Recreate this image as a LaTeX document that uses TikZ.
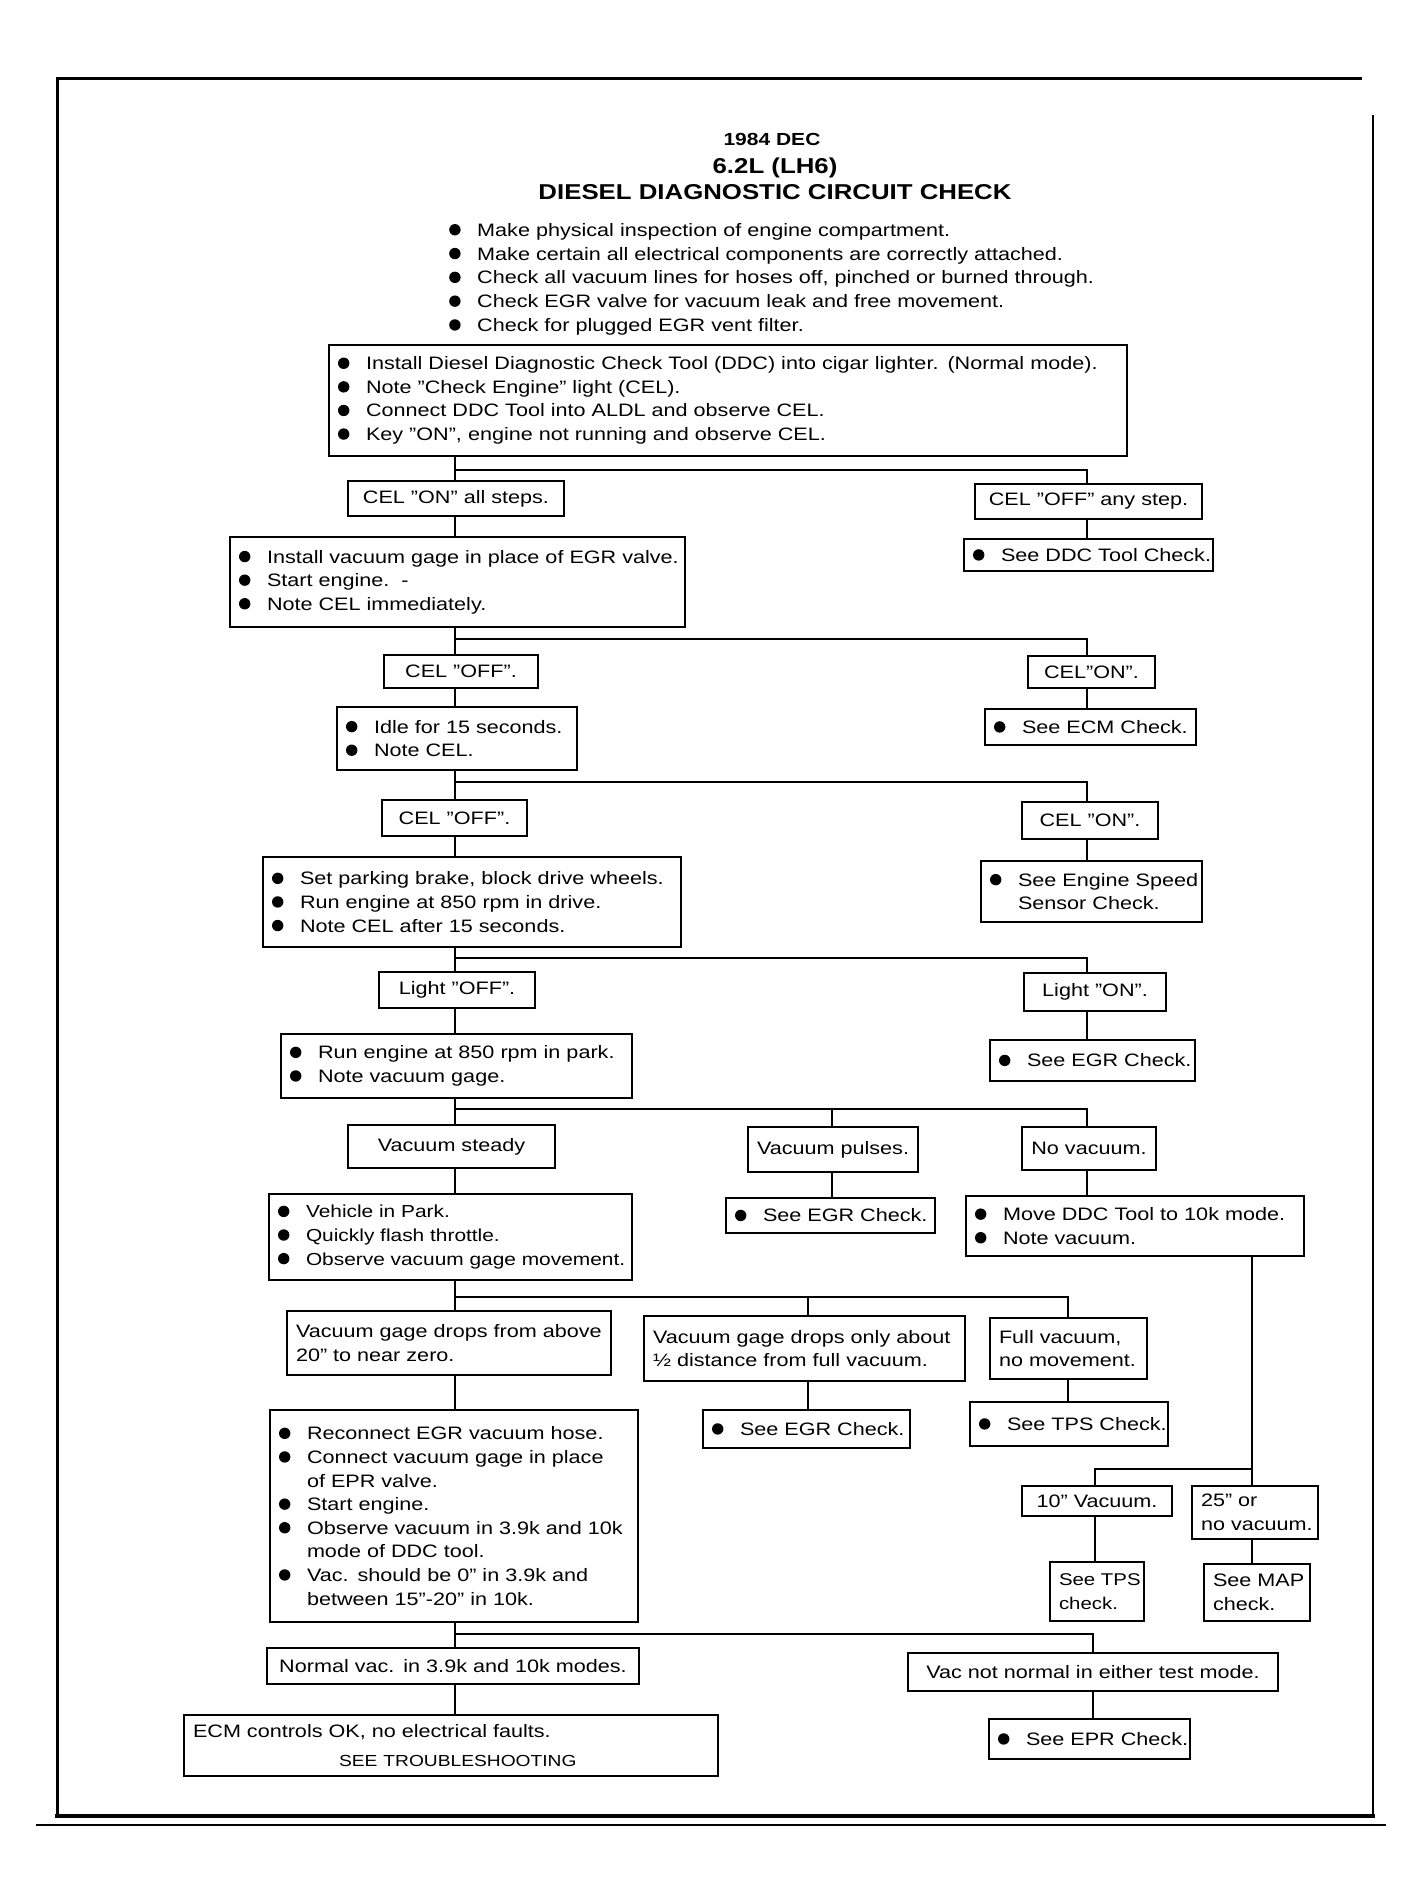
\documentclass[tikz,border=0pt]{standalone}
\usepackage{fontspec}
\setmainfont{Liberation Sans}[FakeStretch=1.2]
\newcommand\bul{\makebox[28pt][l]{\tikz[baseline=0pt]\fill (5.5pt,6.5pt) circle (5.7pt);}}
\newcommand\bi[1]{\mbox{\bul#1}}
\newcommand\ci[1]{\mbox{\hspace*{28pt}#1}}
\newcommand\mybox[7][]{%
  \pgfmathsetmacro\bw{#5-#3}%
  \pgfmathsetmacro\bh{#6-#4}%
  \pgfmathsetmacro\bt{#5-#3-18}%
  \node[bbox,minimum width=\bw pt,minimum height=\bh pt,text width=\bt pt,#1] (#2) at ({(#3+#5)/2},{(#4+#6)/2}) {#7};}
\begin{document}
\begin{tikzpicture}[x=1pt,y=-1pt,
  bbox/.style={draw,line width=2.4pt,inner xsep=9pt,inner ysep=1pt,align=left,
    font=\fontsize{18}{23.6}\selectfont},
  lbox/.style={align=center},
  conn/.style={line width=2pt},
  intro/.style={inner sep=0pt,align=left,font=\fontsize{18}{23.8}\selectfont},
  ttl/.style={inner sep=0pt,anchor=base}]
\fill[white] (0,0) rectangle (1423,1900);
\useasboundingbox (0,0) rectangle (1423,1900);
% frame
\draw[line width=3pt] (57,1816) -- (57,79) -- (1362,79);
\draw[line width=1.6pt] (1373,115) -- (1373,1816);
\draw[line width=3.2pt] (55,1816) -- (1375,1816);
\draw[line width=1.4pt] (36,1825) -- (1386,1825);
% title
\node[ttl,font=\bfseries\fontsize{17.5}{17.5}\selectfont] (t1) at (772,146) {1984 DEC};
\node[ttl,font=\bfseries\fontsize{21.5}{21.5}\selectfont] (t2) at (775,173) {6.2L (LH6)};
\node[ttl,font=\bfseries\fontsize{21.5}{21.5}\selectfont] (t3) at (775,199) {DIESEL DIAGNOSTIC CIRCUIT CHECK};
\node[intro,anchor=north west] (intro) at (449,223) {%
\bi{Make physical inspection of engine compartment.}\\
\bi{Make certain all electrical components are correctly attached.}\\
\bi{Check all vacuum lines for hoses off, pinched or burned through.}\\
\bi{Check EGR valve for vacuum leak and free movement.}\\
\bi{Check for plugged EGR vent filter.}};
% boxes
\mybox{b1}{329}{345}{1127}{456}{\bi{Install Diesel Diagnostic Check Tool (DDC) into cigar lighter. (Normal mode).}\\
\bi{Note "Check Engine" light (CEL).}\\
\bi{Connect DDC Tool into ALDL and observe CEL.}\\
\bi{Key "ON", engine not running and observe CEL.}}
\mybox[lbox]{celon}{348}{481}{564}{516}{\mbox{CEL "ON" all steps.}}
\mybox[lbox]{celoff}{975}{484}{1202}{519}{\mbox{CEL "OFF" any step.}}
\mybox{ddc}{964}{539}{1213}{571}{\bi{See DDC Tool Check.}}
\mybox{b2}{230}{537}{685}{627}{\bi{Install vacuum gage in place of EGR valve.}\\
\bi{Start engine.\ \ -}\\
\bi{Note CEL immediately.}}
\mybox[lbox]{off1}{384}{655}{538}{688}{\mbox{CEL "OFF".}}
\mybox[lbox]{on1}{1028}{656}{1155}{688}{\mbox{CEL"ON".}}
\mybox{idle}{337}{707}{577}{770}{\bi{Idle for 15 seconds.}\\
\bi{Note CEL.}}
\mybox{ecm}{985}{709}{1196}{745}{\bi{See ECM Check.}}
\mybox[lbox]{off2}{382}{800}{527}{836}{\mbox{CEL "OFF".}}
\mybox[lbox]{on2}{1022}{802}{1158}{839}{\mbox{CEL "ON".}}
\mybox{b4}{263}{857}{681}{947}{\bi{Set parking brake, block drive wheels.}\\
\bi{Run engine at 850 rpm in drive.}\\
\bi{Note CEL after 15 seconds.}}
\mybox{ess}{981}{861}{1202}{922}{\bi{See Engine Speed}\\
\ci{Sensor Check.}}
\mybox[lbox]{loff}{379}{972}{535}{1008}{\mbox{Light "OFF".}}
\mybox[lbox]{lon}{1024}{973}{1166}{1011}{\mbox{Light "ON".}}
\mybox{b5}{281}{1034}{632}{1098}{\bi{Run engine at 850 rpm in park.}\\
\bi{Note vacuum gage.}}
\mybox{egr1}{990}{1040}{1195}{1081}{\bi{See EGR Check.}}
\mybox[lbox]{vs}{348}{1125}{555}{1168}{\mbox{Vacuum steady}}
\mybox[lbox]{vp}{748}{1127}{918}{1172}{\mbox{Vacuum pulses.}}
\mybox[lbox]{nv}{1022}{1127}{1156}{1170}{\mbox{No vacuum.}}
\mybox[font=\fontsize{17.4}{23.6}\selectfont,inner xsep=8pt]{b6}{269}{1194}{632}{1280}{\bi{Vehicle in Park.}\\
\bi{Quickly flash throttle.}\\
\bi{Observe vacuum gage movement.}}
\mybox{egr2}{726}{1198}{935}{1233}{\bi{See EGR Check.}}
\mybox{b7}{966}{1196}{1304}{1256}{\bi{Move DDC Tool to 10k mode.}\\
\bi{Note vacuum.}}
\mybox{drops}{287}{1311}{611}{1375}{\mbox{Vacuum gage drops from above}\\
\mbox{20" to near zero.}}
\mybox{half}{644}{1316}{965}{1381}{\mbox{Vacuum gage drops only about}\\
\mbox{½ distance from full vacuum.}}
\mybox{full}{990}{1318}{1147}{1379}{\mbox{Full vacuum,}\\
\mbox{no movement.}}
\mybox{b8}{270}{1410}{638}{1622}{\bi{Reconnect EGR vacuum hose.}\\
\bi{Connect vacuum gage in place}\\
\ci{of EPR valve.}\\
\bi{Start engine.}\\
\bi{Observe vacuum in 3.9k and 10k}\\
\ci{mode of DDC tool.}\\
\bi{Vac. should be 0" in 3.9k and}\\
\ci{between 15"-20" in 10k.}}
\mybox{egr3}{703}{1410}{910}{1448}{\bi{See EGR Check.}}
\mybox{tps}{970}{1402}{1168}{1446}{\bi{See TPS Check.}}
\mybox[lbox]{v10}{1022}{1486}{1172}{1516}{\mbox{10" Vacuum.}}
\mybox{v25}{1192}{1486}{1318}{1539}{\mbox{25" or}\\
\mbox{no vacuum.}}
\mybox[font=\fontsize{17}{23.6}\selectfont]{tpsc}{1050}{1562}{1144}{1621}{\mbox{See TPS}\\
\mbox{check.}}
\mybox{mapc}{1204}{1564}{1310}{1621}{\mbox{See MAP}\\
\mbox{check.}}
\mybox[lbox]{nvac}{267}{1648}{639}{1684}{\mbox{Normal vac. in 3.9k and 10k modes.}}
\mybox{ecmok}{184}{1715}{718}{1776}{\mbox{ECM controls OK, no electrical faults.}\\[5pt]
\mbox{\hspace*{146pt}\fontsize{16}{16}\selectfont SEE TROUBLESHOOTING}}
\mybox[lbox]{vnn}{908}{1653}{1278}{1691}{\mbox{Vac not normal in either test mode.}}
\mybox{epr}{989}{1719}{1190}{1759}{\bi{See EPR Check.}}
% connector columns
\coordinate (tx) at (455,0);
\coordinate (rx) at (1087,0);
\coordinate (cv) at (832,0);
\coordinate (ch) at (808,0);
\coordinate (cf) at (1068,0);
\coordinate (c10) at (1095,0);
\coordinate (c25) at (1252,0);
\coordinate (cn) at (1093,0);
\coordinate (s1) at (455,470);
\coordinate (s2) at (455,639);
\coordinate (s3) at (455,782);
\coordinate (s4) at (455,958);
\coordinate (s5) at (455,1109);
\coordinate (s6) at (455,1297);
\coordinate (s7) at (1252,1469);
\coordinate (s8) at (455,1634);
% connectors
\draw[conn] (b1.south -| tx) -- (celon.north -| tx);
\draw[conn] (s1) -| (celoff.north -| rx);
\draw[conn] (celon.south -| tx) -- (b2.north -| tx);
\draw[conn] (celoff.south -| rx) -- (ddc.north -| rx);
\draw[conn] (b2.south -| tx) -- (off1.north -| tx);
\draw[conn] (s2) -| (on1.north -| rx);
\draw[conn] (off1.south -| tx) -- (idle.north -| tx);
\draw[conn] (on1.south -| rx) -- (ecm.north -| rx);
\draw[conn] (idle.south -| tx) -- (off2.north -| tx);
\draw[conn] (s3) -| (on2.north -| rx);
\draw[conn] (off2.south -| tx) -- (b4.north -| tx);
\draw[conn] (on2.south -| rx) -- (ess.north -| rx);
\draw[conn] (b4.south -| tx) -- (loff.north -| tx);
\draw[conn] (s4) -| (lon.north -| rx);
\draw[conn] (loff.south -| tx) -- (b5.north -| tx);
\draw[conn] (lon.south -| rx) -- (egr1.north -| rx);
\draw[conn] (b5.south -| tx) -- (vs.north -| tx);
\draw[conn] (s5) -| (nv.north -| rx);
\draw[conn] (s5 -| cv) -- (vp.north -| cv);
\draw[conn] (vs.south -| tx) -- (b6.north -| tx);
\draw[conn] (vp.south -| cv) -- (egr2.north -| cv);
\draw[conn] (nv.south -| rx) -- (b7.north -| rx);
\draw[conn] (b6.south -| tx) -- (drops.north -| tx);
\draw[conn] (s6) -| (full.north -| cf);
\draw[conn] (s6 -| ch) -- (half.north -| ch);
\draw[conn] (drops.south -| tx) -- (b8.north -| tx);
\draw[conn] (half.south -| ch) -- (egr3.north -| ch);
\draw[conn] (full.south -| cf) -- (tps.north -| cf);
\draw[conn] (b7.south -| c25) -- (v25.north -| c25);
\draw[conn] (s7) -| (v10.north -| c10);
\draw[conn] (v10.south -| c10) -- (tpsc.north -| c10);
\draw[conn] (v25.south -| c25) -- (mapc.north -| c25);
\draw[conn] (b8.south -| tx) -- (nvac.north -| tx);
\draw[conn] (s8) -| (vnn.north -| cn);
\draw[conn] (nvac.south -| tx) -- (ecmok.north -| tx);
\draw[conn] (vnn.south -| cn) -- (epr.north -| cn);
\end{tikzpicture}
\end{document}
